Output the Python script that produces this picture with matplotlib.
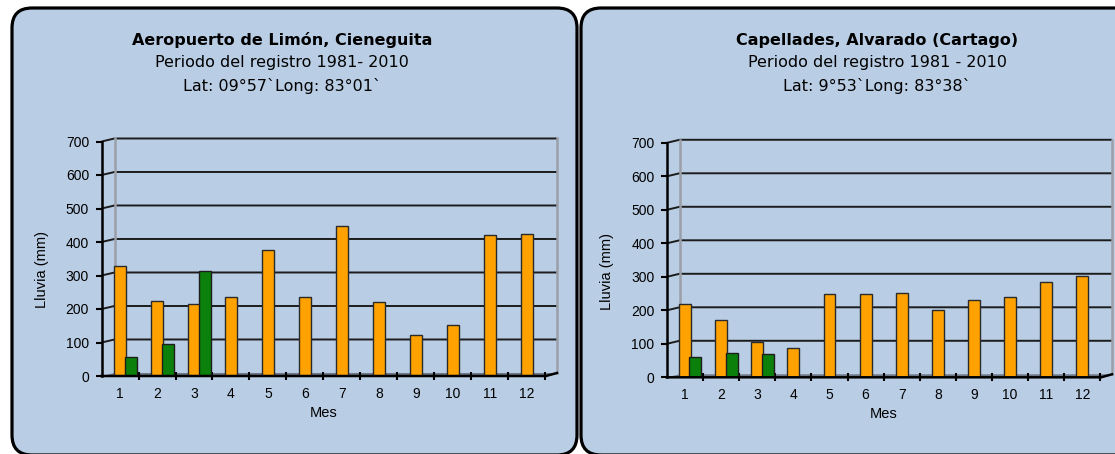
import numpy as np
import matplotlib.pyplot as plt
from matplotlib.patches import FancyBboxPatch, Polygon

meses = list(range(1, 13))

# lluvia mensual (mm), serie naranja, y serie verde de los primeros meses
limon_lluvia = [328, 225, 215, 235, 375, 235, 449, 220, 122, 152, 421, 423]
limon_verde = [57, 97, 313]
capell_lluvia = [219, 170, 105, 87, 250, 250, 252, 200, 230, 241, 285, 302]
capell_verde = [62, 72, 69]

titulos_limon = ["Aeropuerto de Limón, Cieneguita",
                 "Periodo del registro 1981- 2010",
                 "Lat: 09°57`Long: 83°01`"]
titulos_capell = ["Capellades, Alvarado (Cartago)",
                  "Periodo del registro 1981 - 2010",
                  "Lat: 9°53`Long: 83°38`"]

fondo = '#B9CDE4'
naranja = '#FFA200'
verde = '#0B800B'

W, H = 1115, 454
fig = plt.figure(figsize=(W / 100, H / 100), dpi=100)
fig.patch.set_facecolor('white')

# paneles redondeados de fondo, en pixeles
bg = fig.add_axes([0, 0, 1, 1], zorder=0)
bg.set_xlim(0, W)
bg.set_ylim(H, 0)
bg.axis('off')
for x0, w in [(12, 565), (581, 560)]:
    bg.add_patch(FancyBboxPatch((x0, 8), w, 447,
                                boxstyle='round,pad=0,rounding_size=20',
                                facecolor=fondo, edgecolor='black', lw=2.3))


def panel(rect, lluvia, verdes, titulos, xc, ylab_x):
    ax = fig.add_axes(rect, zorder=2)
    xmax = 12.82
    ax.set_xlim(0.5, xmax)
    ax.set_ylim(0, 720)
    ax.patch.set_visible(False)
    for s in ax.spines.values():
        s.set_visible(False)

    back = 0.85
    dy = 9
    # piso y paredes
    ax.add_patch(Polygon([(0.5, 0), (back, dy), (xmax, dy), (xmax - 0.3, 0)],
                         closed=True, facecolor='#6f7886', edgecolor='none', zorder=1))
    for v in range(100, 800, 100):
        ax.plot([0.5, back, xmax], [v, v + dy, v + dy], color='#1c1c1c', lw=1.4,
                zorder=1, clip_on=False, solid_capstyle='butt')
    ax.plot([back, back], [dy, 700 + dy], color='#9a9fa8', lw=1.8, zorder=1)
    ax.plot([xmax, xmax], [dy, 700 + dy], color='#9a9fa8', lw=1.8, zorder=1, clip_on=False)
    ax.plot([0.5, xmax - 0.3, xmax], [0, 0, dy], color='black', lw=1.8, zorder=5,
            clip_on=False)
    ax.plot([0.5, 0.5], [0, 700], color='black', lw=1.8, zorder=5, clip_on=False)

    x = np.array(meses)
    ax.bar(x, lluvia, width=0.33, color=naranja, edgecolor='#2a2a2a', lw=1, zorder=3)
    ax.bar(x[:len(verdes)] + 0.29, verdes, width=0.33, color=verde,
           edgecolor='#1e1e1e', lw=1, zorder=4)

    ax.set_yticks(range(0, 800, 100))
    ax.tick_params(axis='y', direction='out', length=4, width=1.5, pad=5,
                   labelsize=10, colors='black')
    ax.set_xticks(meses)
    ax.set_xticks(np.arange(1.5, 12.6, 1), minor=True)
    ax.tick_params(axis='x', which='major', length=0, pad=8, labelsize=10)
    ax.tick_params(axis='x', which='minor', direction='inout', length=6, width=1.5)
    for lab in ax.get_xticklabels() + ax.get_yticklabels():
        lab.set_fontfamily('Liberation Sans')

    ax.text(ylab_x, 0.44, 'Lluvia (mm)', transform=ax.transAxes, rotation=90,
            ha='center', va='center', fontsize=10.5, family='Liberation Sans')
    ax.text(6.5, -110, 'Mes', ha='center', va='center', fontsize=10.5,
            family='Liberation Sans', clip_on=False)

    fig.text(xc / W, 1 - 40 / H, titulos[0], ha='center', va='center',
             fontsize=11.5, fontweight='bold', family='DejaVu Sans')
    fig.text(xc / W, 1 - 63 / H, titulos[1], ha='center', va='center',
             fontsize=11.5, family='DejaVu Sans')
    fig.text(xc / W, 1 - 86 / H, titulos[2], ha='center', va='center',
             fontsize=11.5, family='DejaVu Sans')
    return ax


panel([101.6 / W, (H - 376) / H, (557 - 101.6) / W, 241.2 / H],
      limon_lluvia, limon_verde, titulos_limon, 282, -0.131)
panel([666.9 / W, (H - 377.3) / H, (1112 - 666.9) / W, 241.2 / H],
      capell_lluvia, capell_verde, titulos_capell, 877, -0.135)

fig.savefig('out.png', dpi=100, facecolor='white')
